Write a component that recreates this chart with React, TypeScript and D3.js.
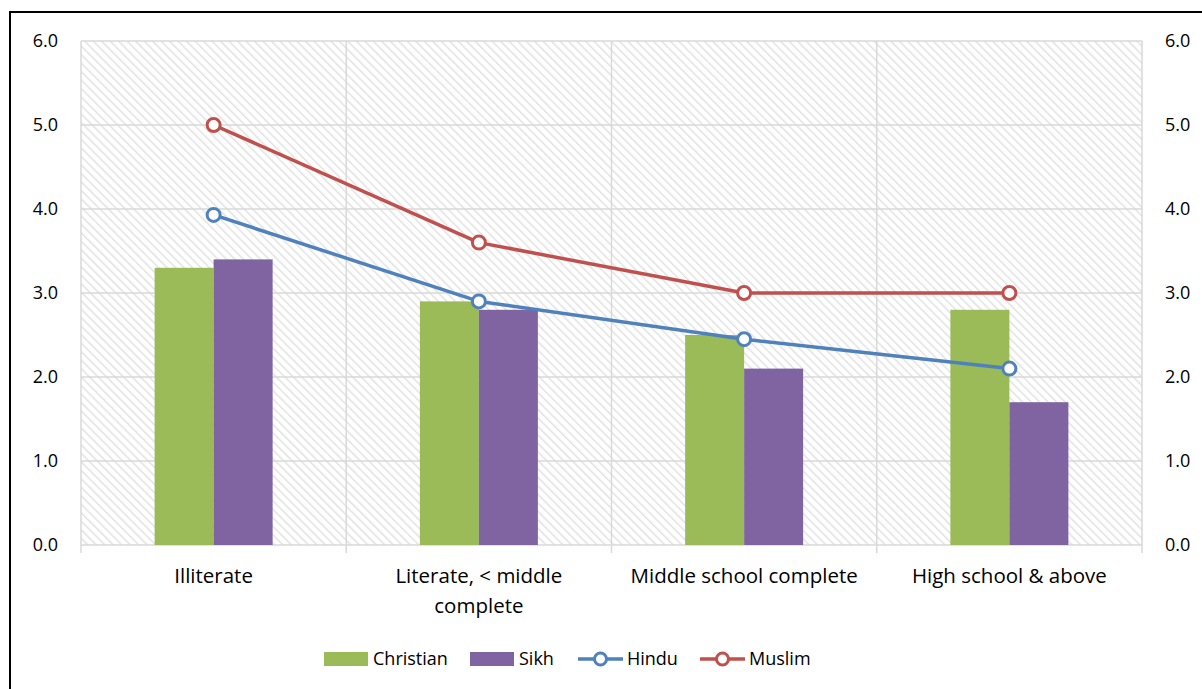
import React from "react";
import * as d3 from "d3";

const categories = ["Illiterate", "Literate, < middle complete", "Middle school complete", "High school & above"];
const categoryLines = [["Illiterate"], ["Literate, < middle", "complete"], ["Middle school complete"], ["High school & above"]];
const christian = [3.3, 2.9, 2.5, 2.8];
const sikh = [3.4, 2.8, 2.1, 1.7];
const hindu = [3.93, 2.9, 2.45, 2.1];
const muslim = [5.0, 3.6, 3.0, 3.0];
const yTicks = [0, 1, 2, 3, 4, 5, 6];

const W = 1202, H = 689;
const L = 81, R = 1142, T = 41, B = 545;
const GREEN = "#9BBB59", PURPLE = "#8064A2", BLUE = "#4F81BD", RED = "#C0504D";
const GRID = "#d9d9d9";
const FONT = "'Open Sans', 'Noto Sans', sans-serif";

export default function App() {
  const x = d3.scaleBand<string>().domain(categories).range([L, R]).paddingInner(0).paddingOuter(0);
  const y = d3.scaleLinear().domain([0, 6]).range([B, T]);
  const barW = 59;
  const inner = d3.scaleBand<string>().domain(["Christian", "Sikh"]).range([0, barW * 2]);
  const cx = (c: string) => (x(c) as number) + x.bandwidth() / 2;
  const line = d3.line<number>().x((_, i) => cx(categories[i])).y((v) => y(v));
  const boundaries = d3.range(categories.length + 1).map((i) => L + i * x.bandwidth());

  const series = [
    { name: "Hindu", vals: hindu, color: BLUE },
    { name: "Muslim", vals: muslim, color: RED },
  ];

  return (
    <div style={{ position: "absolute", left: 0, top: 0 }}>
      <svg width={W} height={H} style={{ display: "block", fontFamily: FONT }}>
        <defs>
          <pattern id="hatch" patternUnits="userSpaceOnUse" width="6" height="6" patternTransform="rotate(-45)">
            <rect width="6" height="6" fill="#ffffff" />
            <line x1="0" y1="0" x2="0" y2="6" stroke="#e2e2e2" strokeWidth="3" />
          </pattern>
        </defs>
        <rect x={0} y={0} width={W} height={H} fill="#fff" />
        <rect x={10} y={12} width={W + 20} height={H + 20} fill="none" stroke="#000" strokeWidth={2} />
        <rect x={L} y={T} width={R - L} height={B - T} fill="url(#hatch)" />
        {yTicks.map((t) => (
          <line key={"g" + t} x1={L} x2={R} y1={y(t)} y2={y(t)} stroke={GRID} strokeWidth={1.5} />
        ))}
        {boundaries.map((bx, i) => (
          <line key={"v" + i} x1={bx} x2={bx} y1={T} y2={B + 8} stroke={GRID} strokeWidth={1.5} />
        ))}
        {categories.map((c, i) => {
          const x0 = cx(c) - barW;
          return (
            <g key={"b" + i}>
              <rect x={x0 + (inner("Christian") as number)} y={y(christian[i])} width={inner.bandwidth()} height={B - y(christian[i])} fill={GREEN} />
              <rect x={x0 + (inner("Sikh") as number)} y={y(sikh[i])} width={inner.bandwidth()} height={B - y(sikh[i])} fill={PURPLE} />
            </g>
          );
        })}
        {series.map((s) => (
          <g key={s.name}>
            <path d={line(s.vals) as string} fill="none" stroke={s.color} strokeWidth={3.5} strokeLinejoin="round" />
            {s.vals.map((v, i) => (
              <circle key={i} cx={cx(categories[i])} cy={y(v)} r={6.5} fill="#fff" stroke={s.color} strokeWidth={3} />
            ))}
          </g>
        ))}
        {yTicks.map((t) => (
          <g key={"t" + t} fontSize={18} fill="#000">
            <text x={58} y={y(t)} dy="0.35em" textAnchor="end">{t.toFixed(1)}</text>
            <text x={1165} y={y(t)} dy="0.35em" textAnchor="start">{t.toFixed(1)}</text>
          </g>
        ))}
        {categories.map((c, i) => (
          <text key={"c" + i} x={cx(c)} y={583} textAnchor="middle" fontSize={20.5} fill="#000">
            {categoryLines[i].map((ln, j) => (
              <tspan key={j} x={cx(c)} dy={j === 0 ? 0 : 30}>{ln}</tspan>
            ))}
          </text>
        ))}
        <g fontSize={18} fill="#000">
          <rect x={324} y={652} width={44} height={14} fill={GREEN} />
          <text x={373} y={665}>Christian</text>
          <rect x={470} y={652} width={44} height={14} fill={PURPLE} />
          <text x={519} y={665}>Sikh</text>
          <line x1={578} x2={623} y1={659} y2={659} stroke={BLUE} strokeWidth={3.5} />
          <circle cx={600.5} cy={659} r={6} fill="#fff" stroke={BLUE} strokeWidth={3} />
          <text x={627} y={665}>Hindu</text>
          <line x1={700} x2={745} y1={659} y2={659} stroke={RED} strokeWidth={3.5} />
          <circle cx={722.5} cy={659} r={6} fill="#fff" stroke={RED} strokeWidth={3} />
          <text x={749} y={665}>Muslim</text>
        </g>
      </svg>
    </div>
  );
}
